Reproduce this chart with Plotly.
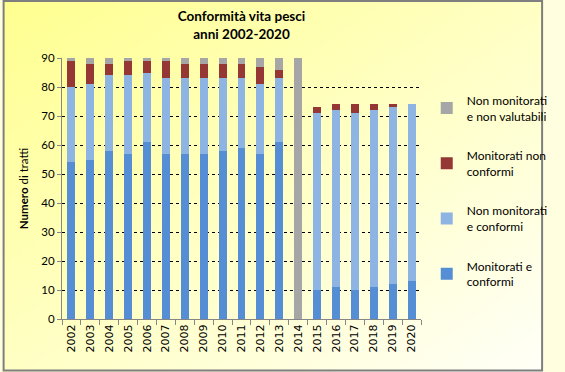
import base64
import plotly.graph_objects as go

years = [str(y) for y in range(2002, 2021)]
monitorati_conformi = [54, 55, 58, 57, 61, 57, 57, 57, 58, 59, 57, 61, 0, 10, 11, 10, 11, 12, 13]
non_monitorati_conformi = [26, 26, 26, 27, 24, 26, 26, 26, 25, 24, 24, 22, 0, 61, 61, 61, 61, 61, 61]
monitorati_non_conformi = [9, 7, 4, 5, 4, 6, 5, 5, 5, 5, 6, 3, 0, 2, 2, 3, 2, 1, 0]
non_monitorati_non_valutabili = [1, 2, 2, 1, 1, 1, 2, 2, 2, 2, 3, 4, 90, 0, 0, 0, 0, 0, 0]
y_ticks = list(range(0, 91, 10))

W, H = 565, 372
ML, MR, MT, MB = 62, 128, 58, 53
PW, PH = W - ML - MR, H - MT - MB

FONT = "Lato"

series = [
    ("Monitorati e<br>conformi", monitorati_conformi, "#558ED5"),
    ("Non monitorati<br>e conformi", non_monitorati_conformi, "#8EB4E3"),
    ("Monitorati non<br>conformi", monitorati_non_conformi, "#953735"),
    ("Non monitorati<br>e non valutabili", non_monitorati_non_valutabili, "#A6A6A6"),
]

fig = go.Figure()
for i, (name, vals, col) in enumerate(series):
    fig.add_trace(go.Bar(x=years, y=vals, name=name, marker=dict(color=col, line=dict(width=0)),
                         legendgroup=f"g{i}", legendrank=1000 - i))

svg = ('<svg xmlns="http://www.w3.org/2000/svg" width="565" height="372" preserveAspectRatio="none">'
       '<defs><linearGradient id="g" x1="0" y1="0" x2="1" y2="1">'
       '<stop offset="0" stop-color="#FFFF8F"/><stop offset="1" stop-color="#FFFFF8"/>'
       '</linearGradient></defs><rect width="565" height="372" fill="url(#g)"/></svg>')
src = "data:image/svg+xml;base64," + base64.b64encode(svg.encode()).decode()

def px_x(p):
    return (p - ML) / PW

def px_y(p):
    return (H - MB - p) / PH

fig.add_layout_image(dict(source=src, xref="paper", yref="paper", x=px_x(0), y=px_y(0),
                          sizex=W / PW, sizey=H / PH, sizing="stretch", layer="below",
                          xanchor="left", yanchor="top"))

fig.add_shape(type="rect", xref="paper", yref="paper", x0=px_x(1), x1=px_x(563.5),
              y0=px_y(1), y1=px_y(370.5), line=dict(color="#7F7F7F", width=2))

fig.update_layout(
    width=W, height=H,
    margin=dict(l=ML, r=MR, t=MT, b=MB),
    paper_bgcolor="#FFFFE0",
    plot_bgcolor="rgba(0,0,0,0)",
    barmode="stack",
    bargap=0.58,
    font=dict(family=FONT, size=11, color="#000000"),
    title=dict(text="<b>Conformità vita pesci</b><br><b>anni 2002-2020</b>", x=0.5, xref="paper",
               xanchor="center", y=1 - 21 / H, yanchor="middle", font=dict(family=FONT, size=13.5)),
    legend=dict(x=px_x(443), y=px_y(86), xanchor="left", yanchor="top", traceorder="grouped",
                tracegroupgap=21, bgcolor="rgba(0,0,0,0)", font=dict(family=FONT, size=12),
                itemwidth=30),
    xaxis=dict(type="category", tickangle=-90, showline=True, linecolor="#868686", linewidth=1,
               ticks="outside", tickson="boundaries", ticklen=5, tickcolor="#868686",
               tickfont=dict(family="DejaVu Sans", size=11), showgrid=False),
    yaxis=dict(range=[0, 90], tickvals=y_ticks, showline=True, linecolor="#868686", linewidth=1,
               ticks="outside", ticklen=4, tickcolor="#868686", showgrid=True, gridcolor="#000000",
               griddash="dot", gridwidth=1, zeroline=False, tickfont=dict(size=11.5),
               title=dict(text="<b>Numero</b> di tratti", font=dict(size=11.5), standoff=10)),
)

fig.write_html("out.html", config={"displayModeBar": False},
               post_script="document.body.style.margin='0';document.body.style.overflow='hidden';")
